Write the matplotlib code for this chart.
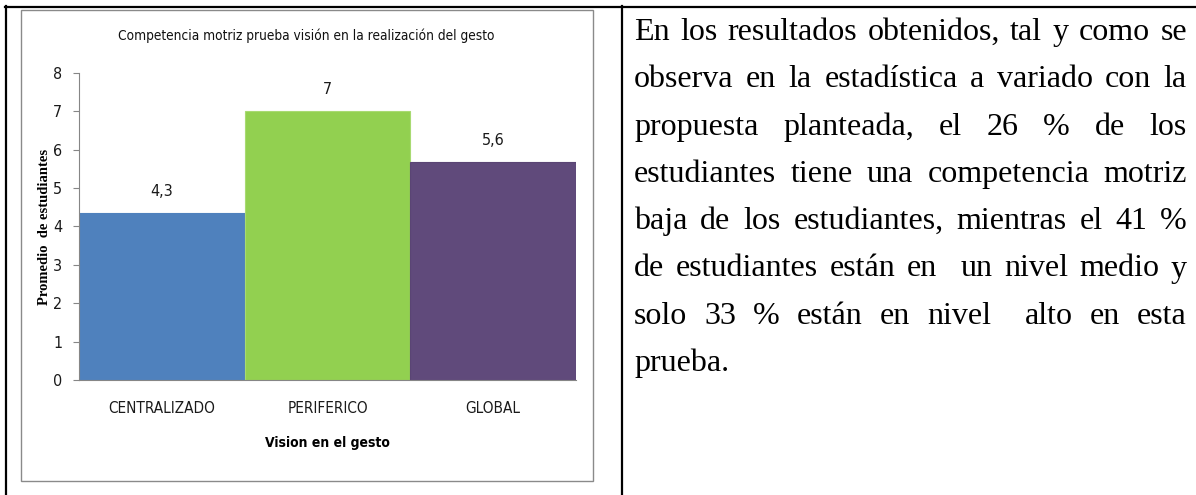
import matplotlib
matplotlib.use("Agg")
import matplotlib.pyplot as plt
from matplotlib.patches import Rectangle
from matplotlib.lines import Line2D

# ---------------- data ----------------
categories = ["CENTRALIZADO", "PERIFERICO", "GLOBAL"]
values = [4.34, 7.0, 5.68]
value_labels = ["4,3", "7", "5,6"]
bar_colors = ["#4F81BD", "#92D050", "#604A7B"]
bar_edges = ["#4F81BD", "#A8DA72", "#5A4574"]
y_ticks = [0, 1, 2, 3, 4, 5, 6, 7, 8]
title = "Competencia motriz prueba visión en la realización del gesto"
x_label = "Vision en el gesto"
y_label = "Promedio  de estudiantes"
paragraph_lines = [
    "En los resultados obtenidos, tal y como se",
    "observa en la estadística a variado con la",
    "propuesta planteada, el 26 % de los",
    "estudiantes tiene una competencia motriz",
    "baja de los estudiantes, mientras el 41 %",
    "de estudiantes están en  un nivel medio y",
    "solo 33 % están en nivel  alto en esta",
    "prueba.",
]

# ---------------- layout helpers ----------------
W, H = 1196, 495
fig = plt.figure(figsize=(W / 100, H / 100), dpi=100)
fig.patch.set_facecolor("white")


def fx(px):
    return px / W


def fy(py):
    return 1 - py / H


sans = ["DejaVu Sans"]
stretch = "condensed"
serif = ["Liberation Serif", "DejaVu Serif"]

# table borders
fig.add_artist(Line2D([fx(5), fx(1196)], [fy(7), fy(7)], color="black", lw=1.6))
fig.add_artist(Line2D([fx(6), fx(6)], [fy(6), fy(495)], color="black", lw=1.6))
fig.add_artist(Line2D([fx(622), fx(622)], [fy(6), fy(495)], color="black", lw=1.6))

# chart frame
fig.add_artist(Rectangle((fx(20.5), fy(481)), fx(593) - fx(20.5), fy(10) - fy(481),
                         fill=False, edgecolor="#8a8a8a", lw=1.0))

# ---------------- chart ----------------
ax = fig.add_axes([fx(79), fy(380), fx(576) - fx(79), fy(72.7) - fy(380)])
xpos = list(range(len(categories)))
ax.bar(xpos, values, width=1.0, color=bar_colors, edgecolor=bar_edges, linewidth=0.8, zorder=2)
ax.set_xlim(-0.5, len(categories) - 0.5)
ax.set_ylim(0, 8)
ax.set_yticks(y_ticks)
ax.set_xticks(xpos)
ax.set_xticklabels(categories)
for s in ["top", "right"]:
    ax.spines[s].set_visible(False)
for s in ["left", "bottom"]:
    ax.spines[s].set_color("#868686")
    ax.spines[s].set_linewidth(0.8)
ax.tick_params(axis="y", length=4, width=0.8, color="#868686", pad=8,
               labelsize=11.5, labelcolor="#1a1a1a")
ax.tick_params(axis="x", length=0, pad=15, labelsize=11, labelcolor="#1a1a1a")
for lab in ax.get_xticklabels() + ax.get_yticklabels():
    lab.set_family(sans)
    lab.set_fontstretch(stretch)

for i, (v, lbl) in enumerate(zip(values, value_labels)):
    ax.annotate(lbl, (i, v), xytext=(0, 15.5), textcoords="offset points",
                ha="center", va="center", fontsize=11.5, family=sans,
                fontstretch=stretch, color="#1a1a1a")

ax.set_xlabel(x_label, fontsize=10.0, family=sans, fontstretch=stretch,
              fontweight="bold", color="black")
ax.xaxis.set_label_coords((327 - 79) / 497, (380 - 436) / 307.3)
ax.set_ylabel(y_label, fontsize=10.5, family=serif, fontweight="bold", color="black", va="center")
ax.yaxis.set_label_coords((45 - 79) / 497, (380 - 227) / 307.3)

fig.text(fx(306), fy(36), title, ha="center", va="center", fontsize=9.8,
         family=sans, fontstretch=stretch, color="#111111")

# ---------------- justified paragraph ----------------
renderer = fig.canvas.get_renderer()
L, R = 634, 1187
fs = 23.0
base0, step = 40.0, 47.3
for i, line in enumerate(paragraph_lines):
    words = line.split(" ")
    texts, widths = [], []
    for w in words:
        if w:
            t = fig.text(0, 0, w, fontsize=fs, family=serif, va="baseline", ha="left", color="black")
            widths.append(t.get_window_extent(renderer).width)
            texts.append(t)
        else:
            widths.append(0.0)
            texts.append(None)
    ngaps = len(words) - 1
    last = i == len(paragraph_lines) - 1
    gap = (R - L - sum(widths)) / ngaps if (ngaps > 0 and not last) else fs * 100 / 72 * 0.25
    x = L
    yb = base0 + step * i
    for t, w in zip(texts, widths):
        if t is not None:
            t.set_position((fx(x), fy(yb)))
        x += w + gap

fig.savefig("out.png", dpi=100)
